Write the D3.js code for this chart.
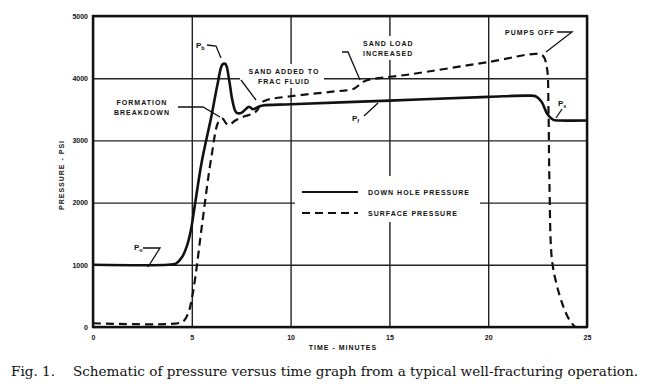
<!DOCTYPE html>
<meta charset="utf-8">
<style>
  body { margin: 0; background: #fff; }
  svg text { font-family: 'Liberation Sans', sans-serif; font-weight: bold; fill: #111; }
  .lbl { font-size: 7px; letter-spacing: 1px; }
  .tick text { font-size: 7px; }
  .caption { font-family: 'DejaVu Serif', serif; font-weight: normal; font-size: 12.5px; }
</style>
<script src="https://d3js.org/d3.v7.min.js"></script>
<div id="chart"></div>
<script>
// down hole pressure (solid)
var holeTime = [0, 3.8, 4.2, 4.5, 4.75, 4.95, 5.15, 5.5, 6.0, 6.3, 6.55, 6.7, 6.9, 7.05, 7.25, 7.5, 7.75, 7.9, 8.1, 8.3, 8.6, 10, 15, 20, 22, 22.4, 22.7, 23.0, 23.3, 23.6, 25];
var holePsi  = [1000, 1000, 1020, 1120, 1300, 1550, 1950, 2650, 3400, 3900, 4220, 4230, 3950, 3650, 3450, 3440, 3510, 3540, 3500, 3530, 3560, 3580, 3640, 3700, 3720, 3710, 3620, 3420, 3330, 3320, 3320];

// surface pressure (dashed)
var surfTime = [0, 4.3, 4.6, 4.85, 5.0, 5.2, 5.5, 6.0, 6.35, 6.55, 6.75, 6.9, 7.2, 7.6, 8.0, 8.3, 8.5, 8.8, 10, 12, 13.2, 13.5, 13.8, 16, 20, 22.5, 22.8, 22.98, 23.05, 23.1, 23.22, 23.45, 23.8, 24.1, 24.4];
var surfPsi  = [60, 60, 100, 250, 450, 850, 1600, 2750, 3300, 3350, 3270, 3250, 3320, 3380, 3420, 3480, 3600, 3650, 3710, 3780, 3830, 3900, 3960, 4060, 4260, 4390, 4350, 4150, 3500, 2300, 1100, 700, 330, 120, 0];

var yTicks = [0, 1000, 2000, 3000, 4000, 5000];
var xTicks = [0, 5, 10, 15, 20, 25];
var legendNames = ["DOWN HOLE PRESSURE", "SURFACE PRESSURE"];

var W = 645, H = 387;
var pl = 93, pr = 587, pt = 16, pb = 327;

var svg = d3.select("#chart").append("svg")
  .attr("width", W).attr("height", H);

var x = d3.scaleLinear().domain([0, 25]).range([pl, pr]);
var y = d3.scaleLinear().domain([0, 5000]).range([pb, pt]);

// grid + tick labels
var gy = svg.append("g")
  .attr("transform", "translate(" + pl + ",0)")
  .call(d3.axisLeft(y).tickValues(yTicks).tickFormat(d3.format("d"))
    .tickSize(-(pr - pl)).tickPadding(5));
var gx = svg.append("g")
  .attr("transform", "translate(0," + pb + ")")
  .call(d3.axisBottom(x).tickValues(xTicks).tickFormat(d3.format("d"))
    .tickSize(-(pb - pt)).tickPadding(8));
[gy, gx].forEach(function(g) {
  g.select(".domain").remove();
  g.selectAll("line").attr("stroke", "#222").attr("stroke-width", 1.4);
  g.selectAll("text").attr("fill", "#111");
});

// white patches where the lettering interrupts the grid
var patches = [
  [240, 64, 84, 24],   // sand added to
  [360, 36, 56, 24],   // sand load increased
  [295, 176, 185, 46], // legend
  [500, 27, 60, 12]    // pumps off
];
svg.selectAll("rect.patch").data(patches).enter().append("rect")
  .attr("x", function(d) { return d[0]; })
  .attr("y", function(d) { return d[1]; })
  .attr("width", function(d) { return d[2]; })
  .attr("height", function(d) { return d[3]; })
  .attr("fill", "#fff");

var line = d3.line().curve(d3.curveCatmullRom.alpha(0.5));

svg.append("path")
  .datum(holeTime.map(function(t, i) { return [x(t), y(holePsi[i])]; }))
  .attr("d", line)
  .attr("fill", "none").attr("stroke", "#111").attr("stroke-width", 2.6);

svg.append("path")
  .datum(surfTime.map(function(t, i) { return [x(t), y(surfPsi[i])]; }))
  .attr("d", line)
  .attr("fill", "none").attr("stroke", "#111").attr("stroke-width", 2.2)
  .attr("stroke-dasharray", "8,5");

// frame
svg.append("rect")
  .attr("x", pl).attr("y", pt)
  .attr("width", pr - pl).attr("height", pb - pt)
  .attr("fill", "none").attr("stroke", "#111").attr("stroke-width", 2.4);

// legend
var leg = svg.append("g");
legendNames.forEach(function(name, i) {
  var ly = 192 + i * 21;
  leg.append("line")
    .attr("x1", 302).attr("x2", 358).attr("y1", ly).attr("y2", ly)
    .attr("stroke", "#111").attr("stroke-width", 2.2)
    .attr("stroke-dasharray", i ? "8,5" : null);
  leg.append("text").attr("class", "lbl")
    .attr("x", 368).attr("y", ly + 2.5).text(name);
});

// annotations
function note(lines, tx, ty, anchor) {
  var t = svg.append("text").attr("class", "lbl").attr("text-anchor", anchor || "start");
  lines.forEach(function(s, i) {
    t.append("tspan").attr("x", tx).attr("y", ty + i * 9.5).text(s);
  });
}
function leader(pts) {
  svg.append("path").attr("d", d3.line()(pts))
    .attr("fill", "none").attr("stroke", "#111").attr("stroke-width", 1.3);
}
function pLabel(sub, tx, ty) {
  var t = svg.append("text").attr("x", tx).attr("y", ty).style("font-size", "8px");
  t.append("tspan").text("P");
  t.append("tspan").attr("dy", 2).style("font-size", "5.5px").text(sub);
}

note(["FORMATION", "BREAKDOWN"], 142, 105, "middle");
leader([[178, 107], [203, 107], [220, 117]]);

note(["SAND ADDED TO", "FRAC FLUID"], 284, 74, "middle");
leader([[241, 80], [256, 100]]);

note(["SAND LOAD", "INCREASED"], 363, 46, "start");
leader([[342, 52], [348, 52], [360, 80]]);

note(["PUMPS OFF"], 505, 35, "start");
leader([[557, 32], [572, 32], [546, 52]]);

pLabel("b", 196, 48);
leader([[207, 45], [216, 46], [221, 58]]);

pLabel("f", 352, 121);
leader([[364, 116], [378, 103]]);

pLabel("s", 558, 106);
leader([[562, 109], [556, 118]]);

pLabel("o", 134, 250);
leader([[143, 248], [160, 248], [148, 267]]);

// axis titles
svg.append("text").attr("class", "lbl").attr("text-anchor", "middle")
  .attr("transform", "translate(64,175) rotate(-90)").text("PRESSURE - PSI");
svg.append("text").attr("class", "lbl").attr("text-anchor", "middle")
  .attr("x", 343).attr("y", 350).text("TIME - MINUTES");

svg.append("text").attr("class", "caption")
  .attr("x", 11).attr("y", 376)
  .attr("textLength", 627).attr("lengthAdjust", "spacingAndGlyphs")
  .text("Fig. 1.\u2003 Schematic of pressure versus time graph from a typical well-fracturing operation.");
</script>
